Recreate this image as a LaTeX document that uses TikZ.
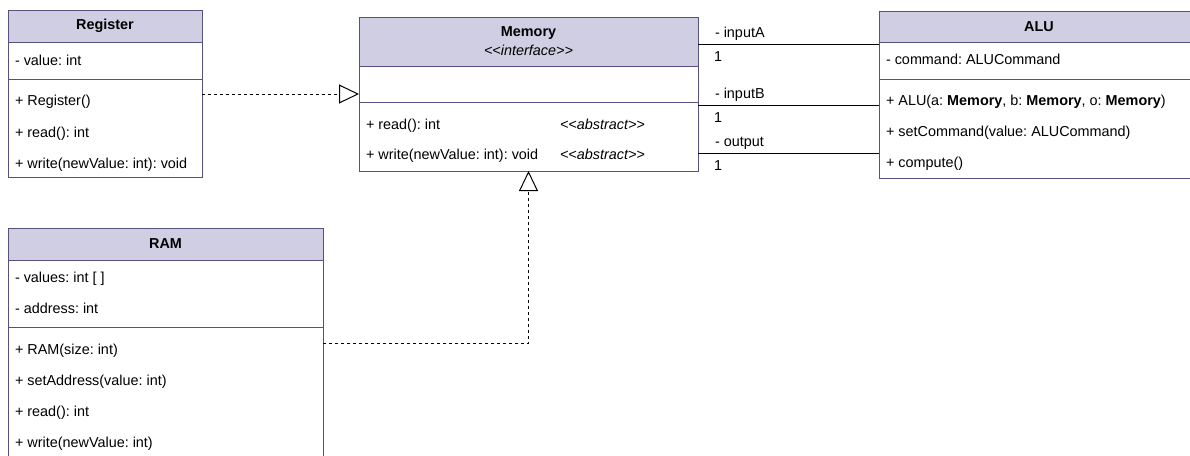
\documentclass[tikz,border=0pt]{standalone}
\usepackage{fontspec}
\setmainfont{Liberation Sans}
\usetikzlibrary{arrows.meta,positioning}
\definecolor{hdr}{HTML}{D0CEE2}
\definecolor{edge}{HTML}{56517E}
\newcommand{\stereo}[1]{<\kern0pt<#1>\kern0pt>}
\frenchspacing

\begin{document}
\begin{tikzpicture}[x=1pt,y=-1pt,font=\fontsize{14.4}{17}\selectfont,
                    every node/.style={inner sep=0pt,outer sep=0pt},
                    head/.style={draw=edge,fill=hdr,line width=1pt,anchor=north west,
                                 font=\fontsize{14.4}{17}\selectfont\bfseries,align=center},
                    part/.style={draw=edge,line width=1pt,below=0pt of #1},
                    row/.style={anchor=base west},
                    real/.style={line width=1pt,dash pattern=on 3pt off 3pt,
                                 -{Triangle[open,length=20pt,width=19pt]}},
                    assoc/.style={line width=1pt},
                    role/.style={pos=0,anchor=base west,xshift=17pt,yshift=6.5pt},
                    mult/.style={pos=0,anchor=base west,xshift=16pt,yshift=-17pt}]
  \useasboundingbox[fill=white] (0,0) rectangle (1190,455);

  \node[head,minimum width=194pt,minimum height=32pt] (regH) at (8,10) {Register};
  \node[part=regH,minimum width=194pt,minimum height=37pt] (regA) {};
  \node[part=regA,minimum width=194pt,minimum height=98pt] (regM) {};

  \node[head,minimum width=339pt,minimum height=49pt] (memH) at (359,17)
       {Memory\\[2pt]{\mdseries\itshape\stereo{interface}}};
  \node[part=memH,minimum width=339pt,minimum height=36pt] (memA) {};
  \node[part=memA,minimum width=339pt,minimum height=69pt] (memM) {};

  \node[head,minimum width=320pt,minimum height=31pt] (aluH) at (879,11) {ALU};
  \node[part=aluH,minimum width=320pt,minimum height=37pt] (aluA) {};
  \node[part=aluA,minimum width=320pt,minimum height=99pt] (aluM) {};

  \node[head,minimum width=315pt,minimum height=32pt] (ramH) at (8,228) {RAM};
  \node[part=ramH,minimum width=315pt,minimum height=67pt] (ramA) {};
  \node[part=ramA,minimum width=315pt,minimum height=129pt] (ramM) {};

  \node[row] (rg1) at (15,65)  {- value: int};
  \node[row] (rg2) at (15,105) {+ Register()};
  \node[row] (rg3) at (15,137) {+ read(): int};
  \node[row] (rg4) at (15,168) {+ write(newValue: int): void};

  \node[row] (me1) at (366,129) {+ read(): int};
  \node[row] (ab1) at (560,129) {\itshape\stereo{abstract}};
  \node[row] (me2) at (366,159) {+ write(newValue: int): void};
  \node[row] (ab2) at (560,159) {\itshape\stereo{abstract}};

  \node[row] (al1) at (886,64)  {- command: ALUCommand};
  \node[row] (al2) at (886,105) {+ ALU(a: \textbf{Memory}, b: \textbf{Memory}, o: \textbf{Memory})};
  \node[row] (al3) at (886,136) {+ setCommand(value: ALUCommand)};
  \node[row] (al4) at (886,167) {+ compute()};

  \node[row] (ra1) at (15,282) {- values: int [ ]};
  \node[row] (ra2) at (15,313) {- address: int};
  \node[row] (ra3) at (15,354) {+ RAM(size: int)};
  \node[row] (ra4) at (15,385) {+ setAddress(value: int)};
  \node[row] (ra5) at (15,416) {+ read(): int};
  \node[row] (ra6) at (15,447) {+ write(newValue: int)};

  \draw[real] (regM.east |- 0,94) -- (memA.west |- 0,94);
  \draw[real] (ramM.east |- 0,343) -| (memM.south);

  \draw[assoc] (memH.east |- 0,44)  -- (aluH.west |- 0,44)  node[role] {- inputA} node[mult] {1};
  \draw[assoc] (memM.east |- 0,105) -- (aluM.west |- 0,105) node[role] {- inputB} node[mult] {1};
  \draw[assoc] (memM.east |- 0,153) -- (aluM.west |- 0,153) node[role] {- output} node[mult] {1};
\end{tikzpicture}
\end{document}
